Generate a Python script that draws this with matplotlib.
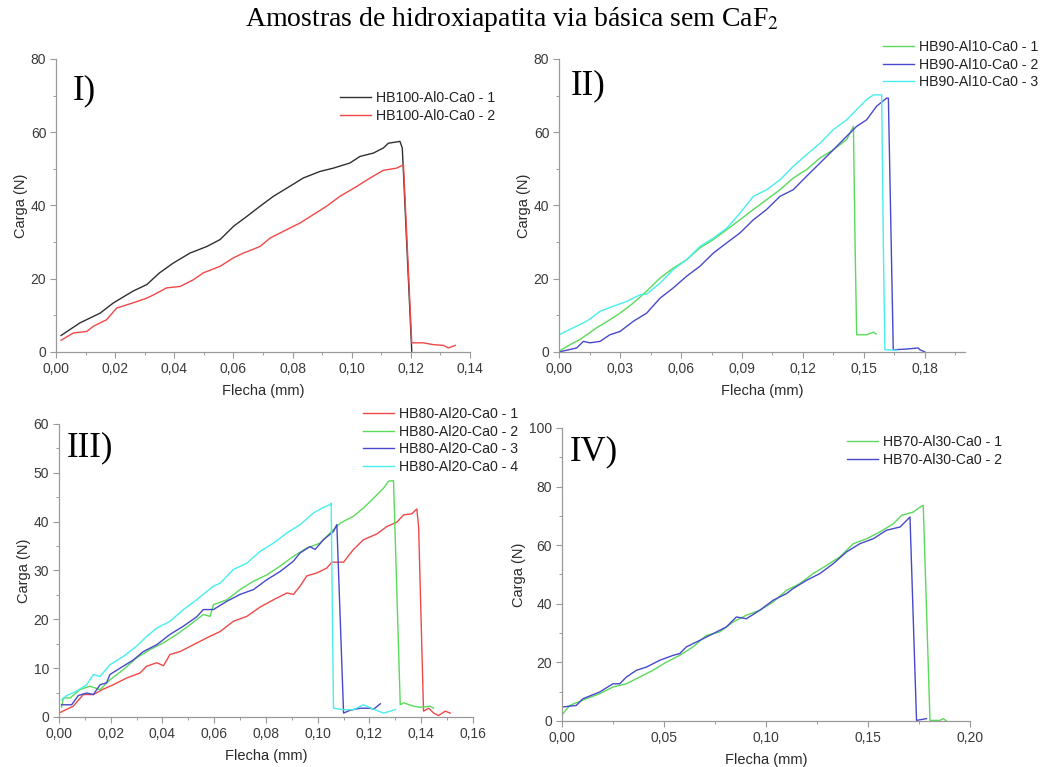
import matplotlib
matplotlib.use("Agg")
import matplotlib.pyplot as plt
from matplotlib.ticker import MultipleLocator, FuncFormatter, FixedLocator

plt.rcParams['font.family'] = ['Liberation Sans', 'DejaVu Sans']

# ---- Painel I : HB100-Al0-Ca0 ----
x_hb100_1 = [0.0017, 0.008, 0.0149, 0.0194, 0.026, 0.0307, 0.035, 0.0397, 0.0453, 0.051,
             0.0555, 0.06, 0.0645, 0.069, 0.0735, 0.079, 0.0836, 0.0893, 0.0938, 0.0994,
             0.1028, 0.1073, 0.1107, 0.1124, 0.1163, 0.1171, 0.1203]
y_hb100_1 = [4.5, 7.9, 10.6, 13.4, 16.6, 18.4, 21.6, 24.3, 27.0, 28.8,
             30.7, 34.3, 37.0, 39.8, 42.5, 45.2, 47.5, 49.3, 50.2, 51.6,
             53.4, 54.3, 55.7, 57.0, 57.5, 55.7, 0.2]
x_hb100_2 = [0.0017, 0.0059, 0.0104, 0.0126, 0.0171, 0.0205, 0.026, 0.0307, 0.033, 0.0374,
             0.042, 0.0464, 0.0498, 0.0555, 0.06, 0.0634, 0.069, 0.0724, 0.078, 0.0825,
             0.087, 0.0915, 0.096, 0.1017, 0.1062, 0.1107, 0.1152, 0.1175, 0.1203, 0.1242,
             0.1276, 0.131, 0.1327, 0.135]
y_hb100_2 = [3.2, 5.2, 5.6, 7.0, 8.8, 12.0, 13.4, 14.7, 15.6, 17.5,
             17.9, 19.7, 21.6, 23.4, 25.7, 27.0, 28.8, 31.1, 33.4, 35.2,
             37.5, 39.8, 42.5, 45.2, 47.5, 49.6, 50.2, 51.1, 2.5, 2.5,
             2.0, 1.8, 1.1, 1.8]

# ---- Painel II : HB90-Al10-Ca0 ----
x_hb90_1 = [0.0, 0.0054, 0.0103, 0.0185, 0.025, 0.03, 0.0366, 0.0431, 0.0497, 0.0562,
            0.0628, 0.0693, 0.0759, 0.0825, 0.089, 0.0956, 0.1021, 0.1087, 0.1152, 0.1218,
            0.1284, 0.1349, 0.1415, 0.1448, 0.1456, 0.1464, 0.1513, 0.1546, 0.156]
y_hb90_1 = [0.2, 2.0, 3.4, 6.6, 8.8, 10.6, 13.4, 16.6, 20.2, 22.9,
            25.2, 28.4, 30.7, 33.4, 36.1, 38.9, 41.6, 44.3, 47.5, 49.8,
            53.0, 55.2, 58.0, 61.6, 30.0, 4.7, 4.7, 5.4, 4.9]
x_hb90_2 = [0.0, 0.0087, 0.012, 0.0152, 0.0202, 0.025, 0.03, 0.0366, 0.0431, 0.0497,
            0.0562, 0.0628, 0.0693, 0.0759, 0.0825, 0.089, 0.0956, 0.1021, 0.1087, 0.1152,
            0.1218, 0.1284, 0.1349, 0.1415, 0.1464, 0.1513, 0.1562, 0.1611, 0.162, 0.1644,
            0.171, 0.1767, 0.1775, 0.18]
y_hb90_2 = [0.0, 1.1, 2.9, 2.5, 2.9, 4.7, 5.6, 8.4, 10.6, 14.7,
            17.5, 20.7, 23.4, 27.0, 29.8, 32.5, 36.1, 38.9, 42.5, 44.3,
            48.0, 51.6, 55.2, 58.9, 61.6, 63.4, 67.1, 69.3, 69.3, 0.6,
            0.8, 1.1, 0.6, 0.0]
x_hb90_3 = [0.0, 0.007, 0.0136, 0.0202, 0.0267, 0.0333, 0.0398, 0.0431, 0.0497, 0.0562,
            0.0628, 0.0693, 0.0759, 0.0825, 0.089, 0.0956, 0.1021, 0.1087, 0.1152, 0.1218,
            0.1284, 0.1349, 0.1415, 0.1464, 0.1513, 0.1546, 0.1587, 0.1595, 0.1603, 0.166]
y_hb90_3 = [4.7, 6.6, 8.4, 11.1, 12.5, 13.8, 15.6, 15.8, 18.8, 22.5,
            25.2, 28.8, 31.1, 33.8, 37.9, 42.5, 44.3, 47.0, 50.7, 53.9,
            57.0, 60.7, 63.4, 66.2, 68.9, 70.2, 70.2, 30.0, 0.6, 0.5]

# ---- Painel III : HB80-Al20-Ca0 ----
x_hb80_1 = [0.0, 0.0055, 0.0094, 0.0133, 0.0171, 0.021, 0.0262, 0.0313, 0.0339, 0.0378,
            0.0404, 0.0429, 0.0468, 0.052, 0.0571, 0.0623, 0.0674, 0.0726, 0.0777, 0.0829,
            0.0881, 0.0906, 0.0932, 0.0958, 0.0997, 0.1035, 0.1055, 0.11, 0.1138, 0.1177,
            0.1229, 0.1267, 0.1306, 0.1332, 0.1364, 0.1383, 0.139, 0.1409, 0.1429, 0.1448,
            0.1467, 0.1493, 0.1512]
y_hb80_1 = [0.8, 2.2, 4.6, 4.6, 5.7, 6.6, 8.0, 9.0, 10.4, 11.1,
            10.5, 12.8, 13.4, 14.8, 16.2, 17.5, 19.6, 20.6, 22.5, 24.0,
            25.4, 25.1, 26.8, 28.9, 29.5, 30.5, 31.7, 31.7, 34.3, 36.3,
            37.5, 39.0, 39.9, 41.4, 41.6, 42.6, 39.0, 1.2, 1.8, 0.8,
            0.3, 1.2, 0.8]
x_hb80_2 = [0.001, 0.0017, 0.0043, 0.0081, 0.012, 0.0159, 0.0197, 0.0249, 0.03, 0.0352,
            0.0404, 0.0455, 0.0507, 0.0558, 0.0584, 0.0597, 0.0649, 0.07, 0.0752, 0.0803,
            0.0855, 0.0906, 0.0958, 0.1009, 0.1048, 0.1087, 0.1138, 0.1177, 0.1216, 0.1255,
            0.1274, 0.1293, 0.1319, 0.1332, 0.1371, 0.1396, 0.1435, 0.1448]
y_hb80_2 = [2.0, 3.9, 3.9, 5.6, 6.3, 5.6, 7.6, 9.7, 12.1, 13.8,
            15.2, 16.9, 18.9, 21.0, 20.6, 23.0, 24.0, 26.1, 27.8, 29.1,
            30.9, 32.9, 34.6, 35.6, 37.7, 39.7, 41.1, 42.8, 44.8, 46.9,
            48.3, 48.4, 2.5, 2.9, 2.2, 2.0, 2.2, 1.8]
x_hb80_3 = [0.001, 0.0049, 0.0075, 0.0107, 0.0133, 0.0159, 0.0184, 0.0197, 0.0236, 0.0288,
            0.0326, 0.0378, 0.0429, 0.0481, 0.0532, 0.0558, 0.0597, 0.0649, 0.07, 0.0752,
            0.0803, 0.0855, 0.0906, 0.0932, 0.097, 0.099, 0.1022, 0.1061, 0.1074, 0.11,
            0.1126, 0.1164, 0.1203, 0.1216, 0.1242]
y_hb80_3 = [2.5, 2.5, 4.4, 4.9, 4.6, 6.6, 7.0, 8.7, 10.0, 11.7,
            13.4, 14.8, 16.9, 18.6, 20.5, 22.0, 22.0, 23.7, 25.1, 26.1,
            28.1, 29.8, 31.9, 33.6, 34.9, 34.3, 36.3, 38.0, 39.4, 0.8,
            1.4, 1.8, 1.8, 1.6, 2.7]
x_hb80_4 = [0.001, 0.003, 0.0068, 0.0107, 0.0133, 0.0159, 0.0197, 0.0249, 0.03, 0.0339,
            0.0378, 0.0429, 0.0481, 0.0532, 0.0597, 0.0623, 0.0674, 0.0726, 0.0777, 0.0829,
            0.0881, 0.0932, 0.0984, 0.1022, 0.1048, 0.1052, 0.1061, 0.11, 0.1138, 0.1177,
            0.1216, 0.1255, 0.13]
y_hb80_4 = [3.5, 4.4, 5.3, 6.6, 8.7, 8.3, 10.7, 12.4, 14.5, 16.5,
            18.2, 19.6, 22.0, 24.0, 26.8, 27.4, 30.2, 31.5, 33.9, 35.6,
            37.7, 39.4, 41.8, 42.9, 43.5, 43.8, 1.8, 1.5, 1.5, 2.5,
            1.6, 0.8, 1.5]

# ---- Painel IV : HB70-Al30-Ca0 ----
x_hb70_1 = [0.0005, 0.0038, 0.0119, 0.0185, 0.025, 0.0316, 0.0381, 0.0446, 0.0512, 0.0577,
            0.0643, 0.0708, 0.0774, 0.0839, 0.0904, 0.097, 0.1035, 0.1101, 0.1166, 0.1231,
            0.1297, 0.1362, 0.1428, 0.1493, 0.1558, 0.1624, 0.1665, 0.1722, 0.1755, 0.1771,
            0.1804, 0.1853, 0.1869, 0.1885]
y_hb70_1 = [2.5, 5.3, 7.6, 9.3, 11.6, 12.7, 15.0, 17.3, 20.1, 22.4,
            25.3, 29.2, 30.4, 33.8, 36.1, 37.8, 40.6, 44.6, 46.9, 50.3,
            53.1, 56.0, 60.5, 62.2, 64.5, 67.3, 70.2, 71.3, 73.0, 73.6,
            0.2, 0.2, 0.8, 0.0]
x_hb70_2 = [0.0005, 0.007, 0.0103, 0.0185, 0.025, 0.0283, 0.0316, 0.0365, 0.0414, 0.0479,
            0.0545, 0.0577, 0.061, 0.0675, 0.0741, 0.0806, 0.0855, 0.0904, 0.097, 0.1035,
            0.1101, 0.1133, 0.1199, 0.1264, 0.133, 0.1395, 0.146, 0.1526, 0.1591, 0.1657,
            0.1706, 0.1738, 0.1787]
y_hb70_2 = [4.8, 5.3, 7.6, 9.9, 12.7, 12.7, 15.0, 17.3, 18.4, 20.7,
            22.4, 23.0, 25.3, 27.5, 29.8, 32.1, 35.5, 34.9, 37.8, 41.2,
            43.5, 45.2, 48.0, 50.3, 53.7, 57.7, 60.5, 62.2, 65.1, 66.2,
            69.6, 0.2, 0.8]

PRETO = '#303030'
VERMELHO = '#f04848'
VERDE = '#5ada5a'
AZUL = '#4848cc'
CIANO = '#48eeee'

fig = plt.figure(figsize=(10.51, 7.67), dpi=100)
fig.text(0.487, 0.975, 'Amostras de hidroxiapatita via básica sem CaF$_2$',
         ha='center', va='center', fontsize=20, family='Liberation Serif',
         math_fontfamily='stix')


def virgula(v, nd):
    return f'{v:.{nd}f}'.replace('.', ',')


def estilo(ax, xlim, ylim, xmaj, xmin, ymaj, ymin, xmax_tick=None):
    ax.set_xlim(*xlim)
    ax.set_ylim(*ylim)
    for s in ['top', 'right']:
        ax.spines[s].set_visible(False)
    for s in ['left', 'bottom']:
        ax.spines[s].set_color('#9a9a9a')
        ax.spines[s].set_linewidth(0.9)
    if xmax_tick is None:
        ax.xaxis.set_major_locator(MultipleLocator(xmaj))
    else:
        n = int(round(xmax_tick / xmaj))
        ax.xaxis.set_major_locator(FixedLocator([i * xmaj for i in range(n + 1)]))
    ax.xaxis.set_minor_locator(MultipleLocator(xmin))
    ax.yaxis.set_major_locator(MultipleLocator(ymaj))
    ax.yaxis.set_minor_locator(MultipleLocator(ymin))
    ax.xaxis.set_major_formatter(FuncFormatter(lambda v, p: virgula(v, 2)))
    ax.yaxis.set_major_formatter(FuncFormatter(lambda v, p: virgula(v, 0)))
    ax.tick_params(which='major', length=4, width=0.8, color='#9a9a9a',
                   labelsize=10, labelcolor='#3a3a3a', pad=3)
    ax.tick_params(which='minor', length=2.5, width=0.7, color='#9a9a9a')
    ax.set_xlabel('Flecha (mm)', fontsize=10.5, color='#2a2a2a', labelpad=6)
    ax.set_ylabel('Carga (N)', fontsize=10.5, color='#2a2a2a', labelpad=2)
    ax.patch.set_alpha(0)


def rotulo(ax, txt, x, y):
    ax.text(x, y, txt, transform=ax.transAxes, fontsize=25,
            family='Liberation Serif', va='center', ha='left')


leg_kw = dict(frameon=False, fontsize=10.2, handlelength=2.2, handletextpad=0.35,
              labelspacing=0.25, borderaxespad=0, borderpad=0, labelcolor='#222222')

# Painel I
ax1 = fig.add_axes([0.0533, 0.5411, 0.3939, 0.382])
ax1.plot(x_hb100_1, y_hb100_1, color=PRETO, lw=1, label='HB100-Al0-Ca0 - 1')
ax1.plot(x_hb100_2, y_hb100_2, color=VERMELHO, lw=1, label='HB100-Al0-Ca0 - 2')
estilo(ax1, (0, 0.14), (0, 80), 0.02, 0.01, 20, 10)
rotulo(ax1, 'I)', 0.04, 0.89)
ax1.legend(loc='upper left', bbox_to_anchor=(340 / 1051, 1 - 91 / 767),
           bbox_transform=fig.transFigure, **leg_kw)

# Painel II
ax2 = fig.add_axes([0.5319, 0.5411, 0.3863, 0.382])
ax2.plot(x_hb90_1, y_hb90_1, color=VERDE, lw=1, label='HB90-Al10-Ca0 - 1')
ax2.plot(x_hb90_2, y_hb90_2, color=AZUL, lw=1, label='HB90-Al10-Ca0 - 2')
ax2.plot(x_hb90_3, y_hb90_3, color=CIANO, lw=1, label='HB90-Al10-Ca0 - 3')
estilo(ax2, (0, 0.1997), (0, 80), 0.03, 0.015, 20, 10, xmax_tick=0.18)
rotulo(ax2, 'II)', 0.03, 0.91)
ax2.legend(loc='upper left', bbox_to_anchor=(883 / 1051, 1 - 40 / 767),
           bbox_transform=fig.transFigure, **leg_kw)

# Painel III
ax3 = fig.add_axes([0.0561, 0.0652, 0.3939, 0.382])
ax3.plot(x_hb80_1, y_hb80_1, color=VERMELHO, lw=1, label='HB80-Al20-Ca0 - 1')
ax3.plot(x_hb80_2, y_hb80_2, color=VERDE, lw=1, label='HB80-Al20-Ca0 - 2')
ax3.plot(x_hb80_3, y_hb80_3, color=AZUL, lw=1, label='HB80-Al20-Ca0 - 3')
ax3.plot(x_hb80_4, y_hb80_4, color=CIANO, lw=1, label='HB80-Al20-Ca0 - 4')
estilo(ax3, (0, 0.16), (0, 60), 0.02, 0.01, 10, 5)
rotulo(ax3, 'III)', 0.02, 0.92)
ax3.legend(loc='upper left', bbox_to_anchor=(363 / 1051, 1 - 407 / 767),
           bbox_transform=fig.transFigure, **leg_kw)

# Painel IV
ax4 = fig.add_axes([0.5347, 0.06, 0.3882, 0.382])
ax4.plot(x_hb70_1, y_hb70_1, color=VERDE, lw=1, label='HB70-Al30-Ca0 - 1')
ax4.plot(x_hb70_2, y_hb70_2, color=AZUL, lw=1, label='HB70-Al30-Ca0 - 2')
estilo(ax4, (0, 0.20), (0, 100), 0.05, 0.025, 20, 10)
rotulo(ax4, 'IV)', 0.02, 0.92)
ax4.legend(loc='upper left', bbox_to_anchor=(847 / 1051, 1 - 435 / 767),
           bbox_transform=fig.transFigure, **leg_kw)

fig.savefig('out.png', dpi=100)
